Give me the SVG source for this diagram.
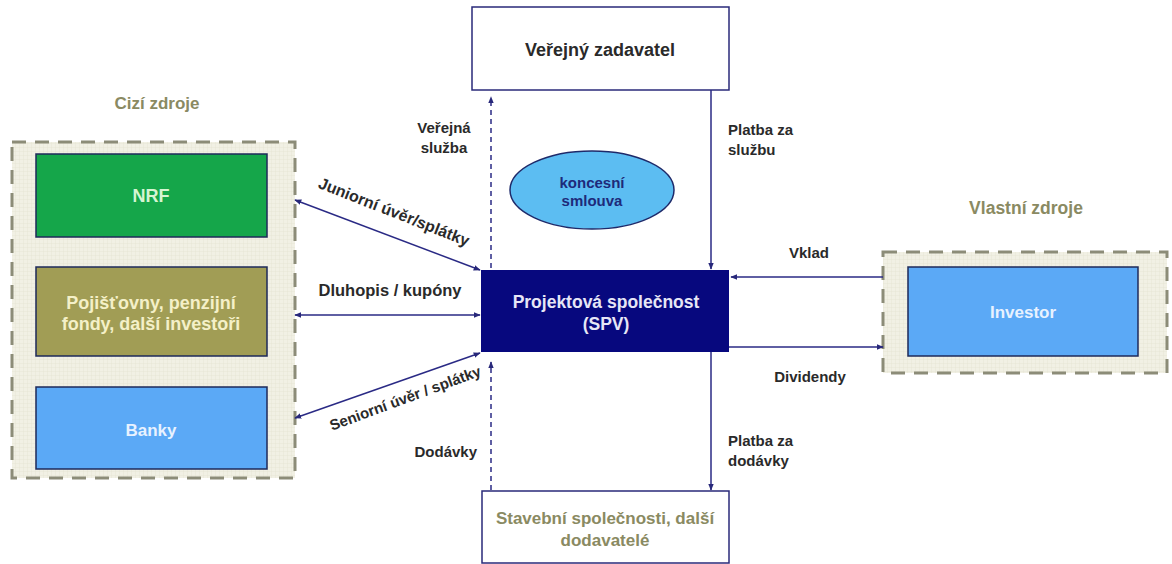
<svg xmlns="http://www.w3.org/2000/svg" width="1172" height="564" viewBox="0 0 1172 564">
<defs>
<pattern id="grid" width="4" height="4" patternUnits="userSpaceOnUse">
<rect width="4" height="4" fill="#f1f0e4"/>
<path d="M4 0V4H0" fill="none" stroke="#e2e0cc" stroke-width="0.6"/>
</pattern>
<marker id="ah" viewBox="0 0 10 10" refX="9" refY="5" markerWidth="7" markerHeight="7" orient="auto-start-reverse" markerUnits="userSpaceOnUse">
<path d="M0 1L10 5L0 9z" fill="#28287a"/>
</marker>
<style>
text{font-family:"Liberation Sans",Arial,sans-serif;font-weight:bold;text-anchor:middle}
.lbl{fill:#2a2a2a}
.olive{fill:#8a8a62}
.cont{fill:url(#grid);stroke:#8c8c78;stroke-width:3;stroke-dasharray:14 9}
.box{stroke:#1e2a5a;stroke-width:1.5}
.wbox{fill:#fff;stroke:#2a2a7a;stroke-width:1.5}
.con{stroke:#2a2a85;stroke-width:1.5;fill:none}
.dash{stroke-dasharray:5 4}
</style>
</defs>

<text class="olive" x="157" y="109" font-size="17">Cizí zdroje</text>
<text class="olive" x="1026" y="214" font-size="17.5">Vlastní zdroje</text>

<g id="cizi-zdroje">
<rect class="cont" x="12" y="142" width="283" height="336"/>
</g>
<g id="nrf">
<rect class="box" x="36" y="154" width="231" height="83" fill="#15a64a"/>
<text x="151" y="202" font-size="18" fill="#d6f5d2">NRF</text>
</g>
<g id="pojistovny">
<rect class="box" x="36" y="267" width="231" height="89" fill="#a19d55" stroke="#8a8650"/>
<text x="151" y="309" font-size="18" fill="#f4f0c8">Pojišťovny, penzijní</text>
<text x="151" y="330" font-size="18" fill="#f4f0c8">fondy, další investoři</text>
</g>
<g id="banky">
<rect class="box" x="36" y="387" width="231" height="82" fill="#5ba9f6"/>
<text x="151" y="436" font-size="17" fill="#e8f2ff">Banky</text>
</g>

<g id="vlastni-zdroje">
<rect class="cont" x="883" y="252" width="284" height="121"/>
</g>
<g id="investor">
<rect class="box" x="908" y="267" width="230" height="89" fill="#5ba9f6"/>
<text x="1023" y="318" font-size="17" fill="#e8f2ff">Investor</text>
</g>

<g id="verejny-zadavatel">
<rect class="wbox" x="472" y="7" width="257" height="83"/>
<text class="lbl" x="600" y="56" font-size="18">Veřejný zadavatel</text>
</g>

<g id="spv">
<rect x="481" y="270" width="248" height="82" fill="#07087e"/>
<text x="606" y="308" font-size="17.5" fill="#e6e6f6">Projektová společnost</text>
<text x="606" y="330" font-size="17.5" fill="#e6e6f6">(SPV)</text>
</g>

<g id="stavebni">
<rect class="wbox" x="482" y="491" width="247" height="72"/>
<text class="olive" x="605" y="524" font-size="17">Stavební společnosti, další</text>
<text class="olive" x="605" y="546" font-size="17">dodavatelé</text>
</g>

<g id="koncesni-smlouva">
<ellipse cx="592" cy="190" rx="82" ry="39" fill="#5cbdf2" stroke="#1e2a6a" stroke-width="1.5"/>
<text x="592" y="188" font-size="15" fill="#1e2a7a">koncesní</text>
<text x="592" y="206" font-size="15" fill="#1e2a7a">smlouva</text>
</g>

<g id="connectors">
<line class="con dash" x1="491" y1="268" x2="491" y2="97" marker-end="url(#ah)"/>
<line class="con dash" x1="491" y1="490" x2="491" y2="362" marker-end="url(#ah)"/>
<line class="con" x1="711" y1="90" x2="711" y2="269" marker-end="url(#ah)"/>
<line class="con" x1="711" y1="352" x2="711" y2="490" marker-end="url(#ah)"/>
<line class="con" x1="883" y1="277" x2="731" y2="277" marker-end="url(#ah)"/>
<line class="con" x1="729" y1="347" x2="883" y2="347" marker-end="url(#ah)"/>
<line class="con" x1="295" y1="200" x2="480" y2="270" marker-start="url(#ah)" marker-end="url(#ah)"/>
<line class="con" x1="295" y1="315" x2="480" y2="315" marker-start="url(#ah)" marker-end="url(#ah)"/>
<line class="con" x1="295" y1="418" x2="480" y2="353" marker-start="url(#ah)" marker-end="url(#ah)"/>
</g>

<g id="labels">
<text class="lbl" x="444" y="133" font-size="15">Veřejná</text>
<text class="lbl" x="444" y="153" font-size="15">služba</text>
<text class="lbl" x="728" y="135" font-size="15" style="text-anchor:start">Platba za</text>
<text class="lbl" x="728" y="155" font-size="15" style="text-anchor:start">službu</text>
<text class="lbl" transform="translate(392,217) rotate(21.5)" font-size="16">Juniorní úvěr/splátky</text>
<text class="lbl" x="390" y="296" font-size="16.5">Dluhopis / kupóny</text>
<text class="lbl" transform="translate(407,403) rotate(-20.3)" font-size="15">Seniorní úvěr / splátky</text>
<text class="lbl" x="477" y="457" font-size="15" style="text-anchor:end">Dodávky</text>
<text class="lbl" x="728" y="446" font-size="15" style="text-anchor:start">Platba za</text>
<text class="lbl" x="728" y="466" font-size="15" style="text-anchor:start">dodávky</text>
<text class="lbl" x="809" y="258" font-size="15">Vklad</text>
<text class="lbl" x="810" y="382" font-size="15">Dividendy</text>
</g>
</svg>
